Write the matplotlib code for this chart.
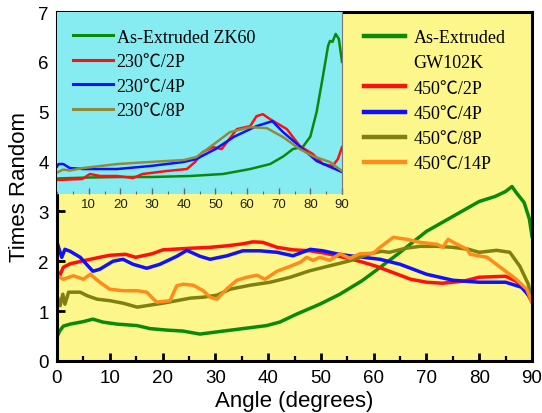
import numpy as np
import matplotlib
matplotlib.use('Agg')
import matplotlib.pyplot as plt
from matplotlib.lines import Line2D
from matplotlib.ticker import MultipleLocator

# ---- main chart data (GW102K), angle in degrees vs times random ----
gw_ang = [0, 0.5, 1.2, 2.5, 5, 6.8, 8.7, 11.4, 15.2, 17.6, 20.8, 23.9, 27.1, 30, 33, 36,
          39.7, 42.2, 45.4, 49.8, 53.6, 57.8, 61, 65, 70, 75, 80, 83, 85, 86.2, 87, 88.5, 89.5, 90]
gw_tr = [0.48, 0.6, 0.7, 0.74, 0.79, 0.84, 0.78, 0.74, 0.71, 0.65, 0.62, 0.6, 0.54, 0.58, 0.62, 0.66,
         0.71, 0.78, 0.94, 1.14, 1.34, 1.61, 1.86, 2.18, 2.6, 2.9, 3.2, 3.3, 3.4, 3.5, 3.38, 3.18, 2.85, 2.5]

p2_ang = [0, 0.4, 1.2, 2.5, 5, 8.1, 10, 13, 14.9, 18, 20.1, 25, 29, 32.2, 35.2, 37.1, 39, 41.7,
          44.7, 48, 50.4, 53, 55.5, 58, 60.5, 63, 67, 70, 73, 77, 80, 85, 87, 89, 90]
p2_tr = [1.84, 1.68, 1.88, 1.95, 2.01, 2.08, 2.12, 2.14, 2.08, 2.15, 2.23, 2.26, 2.28, 2.31, 2.35, 2.39, 2.38, 2.28,
         2.23, 2.21, 2.17, 2.11, 2.05, 1.98, 1.9, 1.8, 1.64, 1.58, 1.56, 1.6, 1.68, 1.7, 1.6, 1.38, 1.18]

p4_ang = [0, 0.9, 1.5, 2.5, 4.4, 6.8, 8.1, 10.6, 12.5, 14.4, 17, 19.5, 22.7, 24.6, 27.1, 29, 32.2,
          35.2, 38.5, 41.7, 44.7, 48, 50.4, 53, 55.5, 58, 61.2, 65, 70, 75, 80, 85, 88, 90]
p4_tr = [2.38, 2.08, 2.24, 2.2, 2.08, 1.8, 1.84, 2.0, 2.04, 1.94, 1.86, 1.94, 2.1, 2.22, 2.1, 2.04, 2.11,
         2.21, 2.21, 2.18, 2.11, 2.24, 2.21, 2.15, 2.11, 2.08, 2.04, 1.94, 1.74, 1.62, 1.58, 1.58, 1.48, 1.24]

p8_ang = [0, 0.6, 1.1, 1.5, 2.2, 4.4, 5.7, 7.6, 10, 12.5, 15.2, 17.6, 20.1, 22.7, 25.2, 27.7, 30.3,
          32.8, 36.6, 40.4, 44.2, 47.9, 51.7, 55.5, 59.3, 61.5, 63, 66, 68.8, 72, 75, 78, 80, 83.3,
          85.8, 87.7, 89.3, 90]
p8_tr = [1.31, 1.11, 1.34, 1.14, 1.38, 1.38, 1.31, 1.24, 1.21, 1.16, 1.08, 1.12, 1.16, 1.21, 1.26, 1.28, 1.32,
         1.44, 1.52, 1.58, 1.68, 1.81, 1.91, 2.01, 2.15, 2.2, 2.18, 2.26, 2.3, 2.3, 2.28, 2.24, 2.18, 2.22,
         2.18, 1.9, 1.54, 1.2]

p14_ang = [0, 1.2, 3.1, 5, 6.3, 8.1, 10, 12.5, 15.2, 17, 18.3, 18.9, 21.4, 22.7, 23.9, 25.8, 27.7, 29,
           30.3, 32.2, 34.1, 36, 37.9, 39.4, 41.7, 44.2, 46.1, 47.3, 48.5, 49.8, 51.7, 53.6, 55.5, 57.4,
           59.9, 61.2, 63.7, 66.3, 68.8, 72, 73.1, 74.1, 75.8, 77.7, 78.3, 81.5, 84.5, 87, 89, 90]
p14_tr = [1.71, 1.64, 1.71, 1.64, 1.74, 1.58, 1.44, 1.41, 1.41, 1.38, 1.24, 1.18, 1.21, 1.51, 1.54, 1.52, 1.41, 1.28,
          1.24, 1.45, 1.62, 1.68, 1.72, 1.64, 1.8, 1.9, 1.98, 2.08, 2.02, 2.08, 2.02, 2.15, 2.06, 2.15,
          2.16, 2.28, 2.48, 2.44, 2.38, 2.34, 2.28, 2.44, 2.34, 2.24, 2.14, 2.08, 1.84, 1.64, 1.44, 1.18]

# ---- inset data (ZK60), same y units as main axis ----
zk_ang = [0, 10, 20, 30, 42, 52.4, 61, 67.3, 71.4, 74.5, 77.7, 80, 82, 84, 85.6, 86.2, 87, 88, 89, 90]
zk_tr = [3.66, 3.68, 3.69, 3.69, 3.71, 3.75, 3.85, 3.95, 4.1, 4.25, 4.3, 4.5, 5.0, 5.72, 6.32, 6.42, 6.4, 6.56, 6.46, 6.0]

z2_ang = [0, 8, 10.4, 13.6, 19, 24, 27, 34.6, 41, 43.6, 46, 49.3, 52, 56.8, 61, 63, 65, 67.3,
          72.6, 76.7, 80.8, 84, 87, 88.7, 90]
z2_tr = [3.63, 3.65, 3.75, 3.71, 3.71, 3.67, 3.75, 3.81, 3.85, 3.99, 4.19, 4.29, 4.25, 4.65, 4.71, 4.91, 4.95, 4.85,
         4.65, 4.31, 4.15, 3.95, 3.91, 4.05, 4.29]

z4_ang = [0, 0.5, 2, 4, 8.3, 19, 29.4, 39.8, 44, 50, 56, 63, 68, 71.4, 77.7, 82, 90]
z4_tr = [3.9, 3.95, 3.95, 3.87, 3.85, 3.85, 3.91, 3.99, 4.05, 4.25, 4.5, 4.71, 4.81, 4.59, 4.25, 4.01, 3.79]

z8_ang = [0, 2, 4, 8.3, 19, 29, 40, 44, 48.3, 54.6, 61, 66.3, 71.4, 76.7, 80.8, 86.2, 90]
z8_tr = [3.78, 3.84, 3.82, 3.87, 3.95, 3.99, 4.03, 4.09, 4.29, 4.59, 4.69, 4.67, 4.49, 4.25, 4.11, 3.99, 3.81]

sans = ['Liberation Sans', 'DejaVu Sans']
serif = ['Liberation Serif', 'Noto Sans CJK SC', 'DejaVu Serif']
plt.rcParams['font.family'] = sans

fig = plt.figure(figsize=(5.42, 4.14), dpi=100)
ax = fig.add_axes([57/542, 52/414, 475/542, 349/414])
ax.set_facecolor('#fdf68a')

l_gw, = ax.plot(gw_ang, gw_tr, color='#0a8a0a', lw=2.5)
l2, = ax.plot(p2_ang, p2_tr, color='#ff1010', lw=2.5)
l4, = ax.plot(p4_ang, p4_tr, color='#1010ff', lw=2.5)
l8, = ax.plot(p8_ang, p8_tr, color='#808010', lw=2.5)
l14, = ax.plot(p14_ang, p14_tr, color='#ff8c1a', lw=2.5)

ax.set_xlim(0, 90)
ax.set_ylim(0, 7)
ax.xaxis.set_major_locator(MultipleLocator(10))
ax.xaxis.set_minor_locator(MultipleLocator(5))
ax.yaxis.set_major_locator(MultipleLocator(1))
ax.tick_params(which='both', direction='in', top=False, right=False, labelsize=13.5, pad=6)
ax.tick_params(which='major', length=6, width=2)
ax.tick_params(which='minor', length=3.5, width=1.6)
for s in ax.spines.values():
    s.set_linewidth(2.2)
ax.set_xlabel('Angle (degrees)', fontsize=16, labelpad=3)
ax.set_ylabel('Times Random', fontsize=16, labelpad=6)

blank = Line2D([], [], color='none')
leg = ax.legend([l_gw, blank, l2, l4, l8, l14],
                ['As-Extruded', 'GW102K', '450℃/2P', '450℃/4P', '450℃/8P', '450℃/14P'],
                loc='upper left', bbox_to_anchor=(0.612, 0.998), frameon=False,
                handlelength=2.3, handletextpad=0.45, labelspacing=0.46,
                prop={'family': serif, 'size': 13})
for h in leg.legend_handles:
    h.set_linewidth(3.2)

# ---- inset ----
ins = fig.add_axes([57/542, (414-195)/414, 285/542, 182/414])
ins.set_facecolor('#86ecf2')
i_zk, = ins.plot(zk_ang, zk_tr, color='#0a8a0a', lw=1.8)
i2, = ins.plot(z2_ang, z2_tr, color='#ff1010', lw=1.8)
i4, = ins.plot(z4_ang, z4_tr, color='#1010ff', lw=1.8)
i8, = ins.plot(z8_ang, z8_tr, color='#8c8c3c', lw=1.8)
ins.set_xlim(0, 90)
ins.set_ylim(3.349, 7)
ins.set_yticks([])
ins.set_xticks(range(10, 91, 10))
ins.xaxis.set_minor_locator(MultipleLocator(5))
ins.tick_params(which='both', direction='in', color='#666666', labelsize=9.5,
                labelcolor='#222222', pad=3)
ins.tick_params(which='major', length=4, width=1)
ins.tick_params(which='minor', length=2.5, width=0.8)
for k in ['left', 'top', 'bottom']:
    ins.spines[k].set_visible(False)
ins.spines['right'].set_color('#777777')
ins.spines['right'].set_linewidth(0.8)
ileg = ins.legend([i_zk, i2, i4, i8],
                  ['As-Extruded ZK60', '230℃/2P', '230℃/4P', '230℃/8P'],
                  loc='upper left', bbox_to_anchor=(0.0, 0.998), frameon=False,
                  handlelength=2.2, handletextpad=0.2, labelspacing=0.42,
                  prop={'family': serif, 'size': 13})
for h in ileg.legend_handles:
    h.set_linewidth(2.2)

fig.savefig('out.png', dpi=100)
